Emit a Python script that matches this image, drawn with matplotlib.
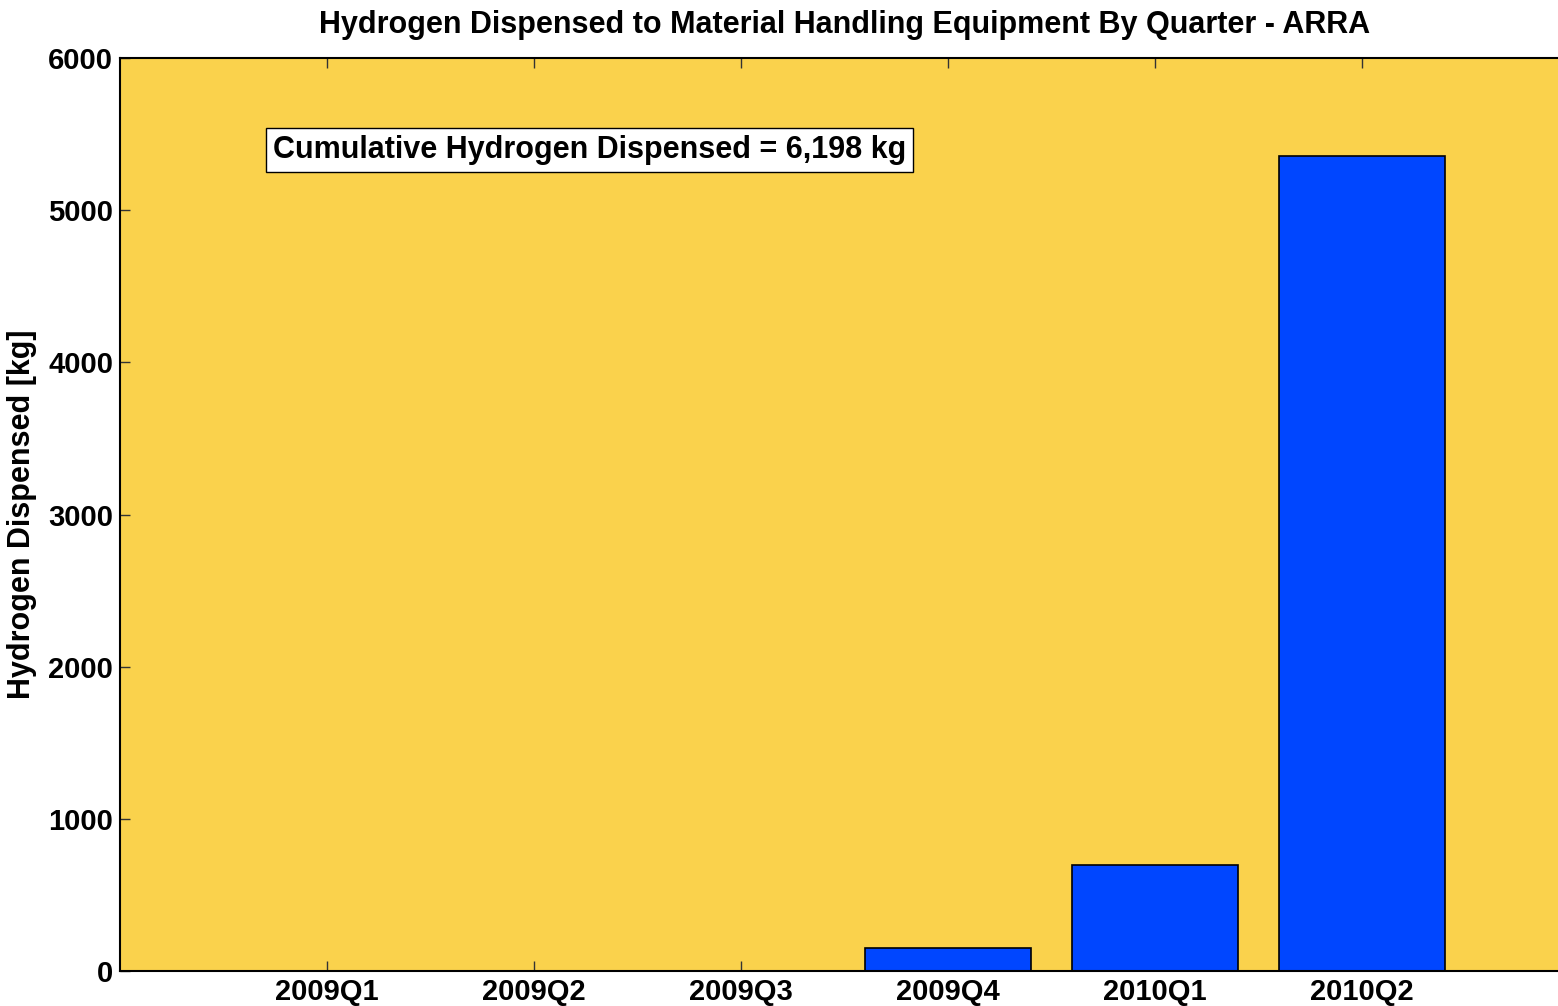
import matplotlib
matplotlib.use("Agg")
import matplotlib.pyplot as plt
import numpy as np

categories = ["2009Q1", "2009Q2", "2009Q3", "2009Q4", "2010Q1", "2010Q2"]
values = [0, 0, 0, 148, 696, 5354]
yticks = [0, 1000, 2000, 3000, 4000, 5000, 6000]
title = "Hydrogen Dispensed to Material Handling Equipment By Quarter - ARRA"
ylabel = "Hydrogen Dispensed [kg]"
note = "Cumulative Hydrogen Dispensed = 6,198 kg"

plt.rcParams['font.family'] = ['Liberation Sans', 'DejaVu Sans']
plt.rcParams['font.weight'] = 'bold'

W, H = 1558, 1006
fig = plt.figure(figsize=(W / 100, H / 100), dpi=100)
left, right, bottom, top = 120, 1569, 971, 58
ax = fig.add_axes([left / W, 1 - bottom / H, (right - left) / W, (bottom - top) / H])
ax.set_facecolor("#FAD24C")

x = np.arange(1, len(categories) + 1)
ax.bar(x, values, width=0.8, color="#0046FF", edgecolor="black", linewidth=1.2, zorder=2)

ax.set_xlim(0, 7)
ax.set_ylim(0, 6000)
ax.set_xticks(x)
ax.set_xticklabels(categories, fontsize=21, fontweight='bold')
ax.set_yticks(yticks)
ax.set_yticklabels([str(v) for v in yticks], fontsize=21, fontweight='bold')
ax.tick_params(direction='in', length=7, width=1, color='#333333', top=True, right=True, pad=5)
for s in ax.spines.values():
    s.set_linewidth(1.5)
    s.set_color('black')

ax.set_ylabel(ylabel, fontsize=22, fontweight='bold', labelpad=8)
ax.set_title(title, fontsize=22, fontweight='bold', pad=18)

ax.text(0.74, 5395, note, fontsize=22, fontweight='bold', ha='left', va='center',
        bbox=dict(facecolor='white', edgecolor='black', linewidth=1, boxstyle='square,pad=0.22'),
        zorder=3)

fig.savefig("out.png", dpi=100)
